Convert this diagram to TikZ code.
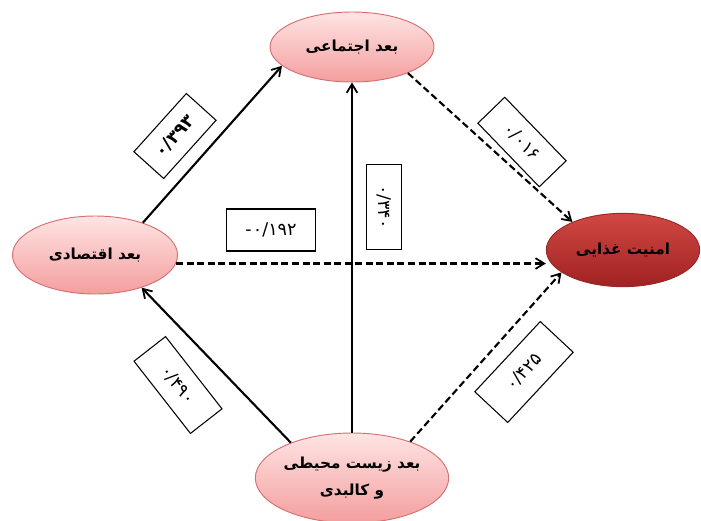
\documentclass[tikz,border=0pt]{standalone}
\usepackage{fontspec}
\newfontfamily\arabicfont[Script=Arabic]{DejaVu Sans}
\TeXXeTstate=1
\usetikzlibrary{arrows.meta,shapes.geometric}
\definecolor{pinktop}{RGB}{255,228,228}
\definecolor{pinkbot}{RGB}{244,158,158}
\definecolor{pinkline}{RGB}{214,112,112}
\definecolor{redtop}{RGB}{208,72,66}
\definecolor{redbot}{RGB}{160,34,34}
\definecolor{redline}{RGB}{150,40,40}
\tikzset{
  dim/.style={ellipse, draw=pinkline, line width=0.8pt, top color=pinktop,
    bottom color=pinkbot, inner sep=0pt, align=center,
    font=\arabicfont\bfseries\fontsize{13}{15}\selectfont},
  goal/.style={dim, draw=redline, top color=redtop, bottom color=redbot},
  weight/.style={draw, line width=0.9pt, fill=white, inner sep=0pt,
    minimum height=1.2cm, font=\arabicfont\fontsize{15}{17}\selectfont},
  link/.style={line width=1.8pt, -{Straight Barb[length=2.6mm,width=3.2mm,line width=1.5pt]}},
  weak/.style={link, dash pattern=on 6pt off 3pt}
}
\begin{document}
\begin{tikzpicture}[x=0.03cm, y=-0.03cm]
  \useasboundingbox (0,0) rectangle (701,520);
  % ellipses
  \node[dim, minimum width=4.92cm, minimum height=2.1cm] (social) at (352,47) {\beginR بعد اجتماعی\endR};
  \node[dim, minimum width=4.95cm, minimum height=2.34cm] (econ) at (95,255) {\beginR بعد اقتصادی\endR};
  \node[goal, minimum width=4.6cm, minimum height=2.2cm] (food) at (623,250) {\beginR امنیت غذایی\endR};
  \node[dim, minimum width=5.76cm, minimum height=2.7cm] (env) at (352,478) {\beginR بعد زیست محیطی\endR\\[8pt]\beginR و کالبدی\endR};
  % arrows
  \draw[link] (econ.34) -- (social.195);
  \draw[link] (env.150) -- (econ.-35);
  \draw[link] (env.north) -- (social.south);
  \draw[weak] (social.-25) -- (food.151);
  \draw[weak] (econ.-6) -- (econ.-6 -| food.west);
  \draw[weak] (env.32) -- (food.200);
  % weights
  \node[weight, minimum width=2.35cm, rotate=48] (w1) at (175,136) {\bfseries ۰/۳۹۳};
  \node[weight, minimum width=2.65cm, minimum height=1.12cm, rotate=-46] (w2) at (522,142) {۰/۰۱۶};
  \node[weight, minimum width=2.67cm, minimum height=1.26cm] (w3) at (271,230) {-\kern1pt ۰/۱۹۲};
  \node[weight, minimum width=2.55cm, minimum height=1.05cm, rotate=-90] (w4) at (384,207) {۰/۳۴۰};
  \node[weight, minimum width=2.75cm, rotate=-52] (w5) at (178,385) {۰/۴۹۰};
  \node[weight, minimum width=2.88cm, minimum height=1.35cm, rotate=47] (w6) at (524,372) {۰/۴۲۵};
\end{tikzpicture}
\end{document}
